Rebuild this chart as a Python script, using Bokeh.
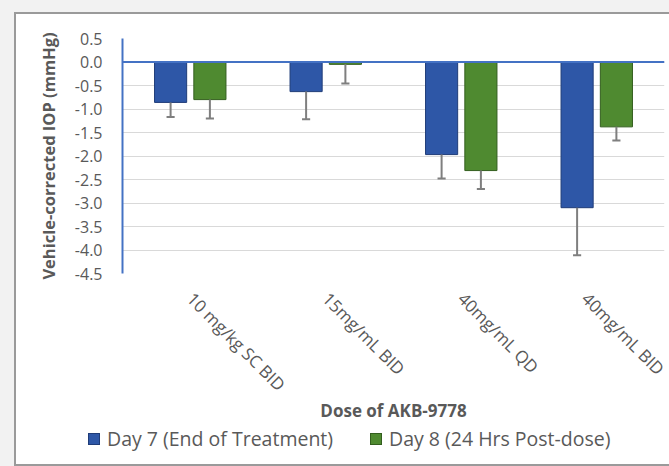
import math
from bokeh.plotting import figure
from bokeh.layouts import column
from bokeh.models import (FactorRange, Range1d, ColumnDataSource, FixedTicker,
                          PrintfTickFormatter, Span, Div)
from bokeh.transform import dodge
from bokeh.embed import file_html
from bokeh.resources import INLINE

# ---- data ----
categories = ["10 mg/kg SC BID", "15mg/mL BID", "40mg/mL QD", "40mg/mL BID"]
series_names = ["Day 7 (End of Treatment)", "Day 8 (24 Hrs Post-dose)"]
day7 = [-0.86, -0.63, -1.97, -3.10]
day7_err = [0.31, 0.59, 0.51, 1.01]
day8 = [-0.80, -0.05, -2.31, -1.38]
day8_err = [0.40, 0.41, 0.39, 0.29]
y_ticks = [-4.5, -4.0, -3.5, -3.0, -2.5, -2.0, -1.5, -1.0, -0.5, 0.0, 0.5]

src = ColumnDataSource(dict(
    cat=categories,
    d7=day7, d7lo=[v - e for v, e in zip(day7, day7_err)],
    d8=day8, d8lo=[v - e for v, e in zip(day8, day8_err)],
))

FONT = "Open Sans"
GRAY = "#595959"
AXIS_BLUE = "#4472C4"
BLUE_FILL, BLUE_LINE = "#2E57A7", "#1F3C78"
GREEN_FILL, GREEN_LINE = "#4F8A30", "#335E1E"
FRAME = "#9a9a9a"
OUTSIDE = "#f2f2f2"

p = figure(width=669, height=424, x_range=FactorRange(*categories),
           y_range=Range1d(-4.5, 0.5), output_backend="svg",
           toolbar_location=None, title=None)
p.min_border_left = 122
p.min_border_top = 38
p.min_border_bottom = 147
p.min_border_right = 5
p.outline_line_color = None
p.border_fill_alpha = 0
p.background_fill_color = "white"
p.styles = {"box-shadow": f"inset 14px 12px 0 0 {OUTSIDE}, inset 16px 14px 0 0 {FRAME}"}

# y axis
p.yaxis.ticker = FixedTicker(ticks=y_ticks)
p.yaxis.formatter = PrintfTickFormatter(format="%.1f")
p.yaxis.axis_line_color = AXIS_BLUE
p.yaxis.axis_line_width = 2
p.yaxis.major_tick_line_color = None
p.yaxis.minor_tick_line_color = None
p.yaxis.major_tick_out = 0
p.yaxis.major_label_standoff = 20
p.yaxis.major_label_text_font = FONT
p.yaxis.major_label_text_font_size = "16px"
p.yaxis.major_label_text_color = GRAY
p.yaxis.axis_label = "Vehicle-corrected IOP (mmHg)"
p.yaxis.axis_label_text_font = FONT
p.yaxis.axis_label_text_font_style = "bold"
p.yaxis.axis_label_text_font_size = "16.5px"
p.yaxis.axis_label_text_color = GRAY
p.yaxis.axis_label_standoff = 12

# x axis
p.xaxis.axis_line_color = None
p.xaxis.major_tick_line_color = None
p.xaxis.minor_tick_line_color = None
p.xaxis.major_tick_out = 0
p.xaxis.major_label_orientation = -math.pi / 4
p.xaxis.major_label_standoff = 22
p.xaxis.major_label_text_font = FONT
p.xaxis.major_label_text_font_size = "17px"
p.xaxis.major_label_text_color = GRAY
p.xaxis.axis_label = "Dose of AKB-9778"
p.xaxis.axis_label_text_font = FONT
p.xaxis.axis_label_text_font_style = "bold"
p.xaxis.axis_label_text_font_size = "17px"
p.xaxis.axis_label_text_color = GRAY
p.xaxis.axis_label_standoff = -8

# grid
p.xgrid.grid_line_color = None
p.ygrid.ticker = FixedTicker(ticks=y_ticks)
p.ygrid.grid_line_color = "#d9d9d9"
p.ygrid.grid_line_width = 1

OFF = 0.145
BW = 0.237
CAP = 0.03

r7 = p.vbar(x=dodge("cat", -OFF, range=p.x_range), top="d7", bottom=0, width=BW,
            source=src, fill_color=BLUE_FILL, line_color=BLUE_LINE, line_width=1)
r8 = p.vbar(x=dodge("cat", OFF, range=p.x_range), top="d8", bottom=0, width=BW,
            source=src, fill_color=GREEN_FILL, line_color=GREEN_LINE, line_width=1)

ERR = "#7F7F7F"
for off, top, lo in [(-OFF, "d7", "d7lo"), (OFF, "d8", "d8lo")]:
    p.segment(x0=dodge("cat", off, range=p.x_range), x1=dodge("cat", off, range=p.x_range),
              y0=top, y1=lo, source=src, line_color=ERR, line_width=2)
    p.segment(x0=dodge("cat", off - CAP, range=p.x_range),
              x1=dodge("cat", off + CAP, range=p.x_range),
              y0=lo, y1=lo, source=src, line_color=ERR, line_width=2)

p.add_layout(Span(location=0, dimension="width", line_color=AXIS_BLUE, line_width=2))

# ---- legend strip below the chart (left of the plot frame, as in the reference) ----
def key(left, fill, line, text_left, label):
    return (f'<span style="position:absolute;left:{left}px;top:9px;width:12px;height:12px;'
            f'background:{fill};border:1px solid {line};"></span>'
            f'<span style="position:absolute;left:{text_left}px;top:1px;white-space:nowrap;'
            f'line-height:28px;">{label}</span>')

legend_html = (
    f'<div style="position:relative;width:669px;height:42px;font-family:\'{FONT}\';'
    f'font-size:19.5px;color:{GRAY};">'
    + key(88, BLUE_FILL, BLUE_LINE, 107, series_names[0])
    + key(370, GREEN_FILL, GREEN_LINE, 389, series_names[1])
    + '</div>'
)
leg = Div(text=legend_html, width=669, height=42, margin=0,
          styles={"box-shadow": f"inset 14px 0 0 0 {OUTSIDE}, inset 16px 0 0 0 {FRAME}, "
                                f"inset 0 -2px 0 0 {FRAME}"})

layout = column(p, leg, spacing=0)
open("out.html", "w").write(file_html(layout, INLINE))
